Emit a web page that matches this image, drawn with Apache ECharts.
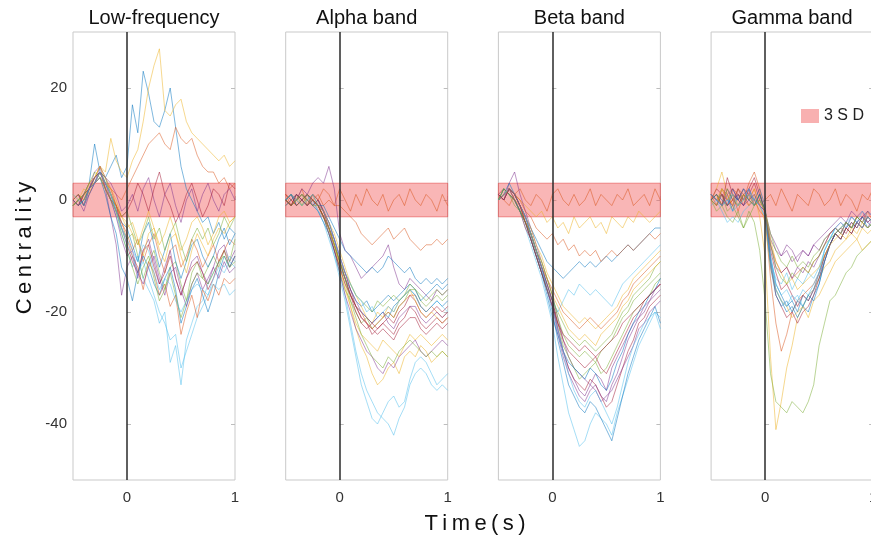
<!DOCTYPE html>
<html>
<head>
<meta charset="utf-8">
<title>Centrality by frequency band</title>
<script src="https://cdn.jsdelivr.net/npm/echarts@6.0.0/dist/echarts.min.js"></script>
<style>
  html, body { margin: 0; padding: 0; background: #fff; }
  #chart { width: 871px; height: 537px; }
</style>
</head>
<body>
<div id="chart"></div>
<script>
// Time samples (s), shared by every trace
const TIME = [-0.5,-0.45,-0.4,-0.35,-0.3,-0.25,-0.2,-0.15,-0.1,-0.05,0,0.05,0.1,0.15,0.2,0.25,0.3,0.35,0.4,0.45,0.5,0.55,0.6,0.65,0.7,0.75,0.8,0.85,0.9,0.95,1];

const PANEL_TITLES = ['Low-frequency', 'Alpha band', 'Beta band', 'Gamma band'];
const Y_TICKS = [-40, -20, 0, 20];
const X_TICKS = [0, 1];
const SD_LOW = -3;
const SD_HIGH = 3;
const SD_LABEL = '3 S D';

// Low-frequency traces
const lowFreq = [
  [0,-1,1,3,10,5,4,6,8,4,6,17,12,23,19,14,13,16,20,13,6,2,0,-2,-4,-3,-6,-4,-7,-5,-6],
  [-1,0,1,3,4,5,4,2,-1,-4,-6,-9,-7,-11,-8,-6,-10,-13,-9,-8,-12,-10,-7,-9,-12,-10,-8,-11,-9,-7,-8],
  [1,0,-1,2,4,6,5,11,7,5,4,7,9,14,20,24,27,16,15,17,18,14,12,11,10,9,8,7,8,6,7],
  [0,1,-1,2,5,6,2,-3,-8,-17,-12,-10,-14,-9,-7,-11,-15,-12,-9,-14,-17,-14,-11,-10,-13,-15,-12,-9,-8,-11,-9],
  [0,-1,0,2,3,4,3,1,-2,-5,-7,-6,-10,-14,-11,-9,-13,-16,-12,-11,-15,-18,-13,-11,-14,-12,-10,-12,-9,-11,-7],
  [-1,0,1,2,3,4,2,0,-3,-6,-9,-12,-10,-14,-16,-18,-22,-20,-29,-26,-33,-25,-22,-19,-18,-15,-13,-11,-12,-10,-11],
  [0,1,0,2,3,5,3,1,-1,-5,-8,-11,-13,-9,-8,-12,-15,-13,-10,-14,-17,-14,-12,-11,-13,-16,-14,-11,-9,-12,-10],
  [0,1,-1,1,3,5,4,1,-2,-4,-5,-8,-11,-6,-4,-8,-12,-9,-6,-11,-14,-11,-8,-7,-10,-12,-10,-7,-5,-8,-6],
  [0,-1,1,2,3,5,3,2,1,0,2,4,6,8,10,11,12,10,9,13,11,10,11,8,6,5,5,3,4,2,3],
  [-1,0,2,1,4,6,3,2,0,-3,-5,-4,-7,-10,-6,-5,-9,-11,-7,-6,-10,-13,-9,-6,-8,-10,-7,-5,-6,-4,-3],
  [-1,0,-2,1,3,6,4,3,1,-2,-1,1,-2,2,4,0,-3,1,3,-1,-4,0,2,-2,1,3,0,-2,1,2,0],
  [-1,0,1,2,4,5,3,1,-1,-3,-2,-5,-8,-6,-3,-7,-5,-9,-6,-4,-8,-11,-7,-5,-7,-5,-8,-6,-3,-5,-3],
  [0,-1,0,2,4,5,3,1,-2,-5,-8,-10,-13,-11,-14,-17,-20,-22,-25,-24,-30,-27,-24,-21,-19,-17,-14,-12,-13,-11,-12],
  [0,1,-1,2,4,5,2,0,-1,-3,-2,0,3,1,-2,2,5,1,-1,-4,-2,1,3,0,-3,-1,2,1,-1,3,2],
  [0,-1,0,2,3,4,1,-3,-6,-12,-14,-18,-13,-10,-12,-15,-17,-14,-12,-16,-22,-19,-16,-14,-17,-20,-17,-13,-10,-12,-10],
  [0,-1,1,2,3,4,2,0,-2,-4,-7,-10,-12,-16,-11,-13,-17,-15,-19,-17,-24,-20,-17,-21,-16,-18,-15,-17,-14,-15,-14],
  [0,1,0,3,4,6,4,1,-1,-3,-4,-6,-8,-5,-2,-5,-8,-6,-3,-6,-9,-7,-4,-3,-5,-8,-6,-3,-2,-4,-3],
  [0,-1,1,2,4,5,3,0,-3,-7,-10,-9,-13,-15,-12,-10,-14,-17,-13,-12,-16,-19,-15,-13,-16,-14,-12,-14,-11,-13,-12],
  [-1,0,1,3,5,4,2,0,-2,-6,-9,-12,-15,-12,-10,-14,-18,-16,-13,-17,-21,-18,-15,-13,-14,-15,-13,-11,-10,-12,-11],
  [1,0,-1,2,3,5,3,1,-2,-5,-7,-9,-11,-8,-9,-13,-16,-14,-15,-18,-20,-18,-16,-15,-16,-17,-15,-16,-15,-17,-16]
];

// Alpha-band traces
const alphaBand = [
  [0,1,-1,0,1,-1,0,-2,-4,-7,-11,-14,-17,-19,-20,-21,-22,-21,-20,-21,-19,-18,-17,-16,-17,-19,-20,-19,-18,-19,-18],
  [1,-1,0,2,-1,1,0,2,1,-1,2,0,-2,1,-1,2,0,-1,1,-2,0,1,-1,2,0,-1,1,0,-2,1,-1],
  [0,-1,1,0,-1,0,-1,-3,-5,-8,-12,-15,-19,-23,-26,-28,-31,-33,-32,-30,-29,-31,-28,-27,-28,-26,-27,-29,-28,-27,-28],
  [0,1,0,2,1,3,4,3,6,2,-6,-9,-10,-12,-14,-13,-12,-11,-10,-8,-12,-15,-16,-14,-15,-16,-17,-18,-16,-17,-16],
  [-1,0,1,-1,0,1,-1,-3,-6,-9,-13,-16,-18,-20,-22,-21,-23,-22,-21,-20,-21,-19,-18,-16,-16,-18,-19,-18,-17,-18,-17],
  [0,-1,0,1,-1,0,-2,-4,-7,-10,-13,-17,-22,-27,-31,-34,-36,-38,-39,-40,-42,-39,-37,-33,-31,-30,-31,-33,-34,-33,-34],
  [1,0,-1,0,1,0,-1,-2,-5,-8,-11,-14,-17,-20,-22,-23,-22,-23,-22,-21,-22,-20,-19,-17,-18,-20,-21,-20,-19,-20,-19],
  [0,-1,0,1,0,-1,-2,-4,-6,-9,-12,-14,-16,-18,-19,-18,-20,-19,-18,-17,-18,-17,-16,-15,-16,-18,-17,-16,-15,-16,-15],
  [0,1,-1,0,1,0,1,-1,0,-1,-1,-2,-3,-4,-6,-7,-8,-7,-6,-5,-7,-6,-5,-7,-8,-9,-8,-8,-7,-8,-7],
  [-1,0,1,0,-1,1,0,-2,-4,-6,-9,-12,-15,-17,-19,-21,-22,-20,-21,-19,-20,-18,-17,-16,-18,-20,-21,-20,-21,-22,-21],
  [0,-1,1,0,-1,0,-1,-3,-5,-9,-13,-17,-20,-23,-25,-27,-28,-30,-31,-29,-30,-28,-27,-26,-25,-27,-28,-27,-26,-25,-26],
  [0,1,0,-1,1,0,-1,-3,-5,-8,-11,-13,-15,-17,-18,-19,-20,-18,-19,-18,-17,-18,-17,-15,-16,-17,-18,-17,-16,-17,-16],
  [-1,0,1,0,-1,0,-2,-3,-6,-10,-14,-18,-23,-28,-33,-36,-39,-40,-38,-36,-35,-37,-36,-32,-29,-28,-29,-31,-33,-32,-31],
  [0,-1,0,1,0,-1,0,-2,-4,-7,-10,-13,-16,-19,-21,-22,-24,-23,-22,-23,-24,-22,-21,-19,-20,-22,-23,-22,-21,-22,-21],
  [0,1,-1,0,1,0,-1,-1,-3,-5,-7,-9,-10,-11,-12,-13,-12,-13,-12,-10,-11,-12,-13,-12,-14,-15,-14,-15,-14,-15,-14],
  [1,0,-1,0,1,0,-1,-3,-5,-8,-11,-14,-17,-19,-20,-22,-23,-22,-21,-20,-21,-19,-18,-17,-17,-19,-20,-19,-20,-21,-20],
  [0,-1,0,1,-1,0,-1,-2,-5,-8,-12,-16,-19,-22,-24,-25,-26,-27,-25,-26,-27,-28,-26,-24,-25,-24,-25,-26,-25,-24,-25],
  [-1,0,1,0,-1,1,0,-2,-5,-7,-10,-13,-16,-18,-20,-21,-22,-21,-20,-22,-23,-21,-20,-19,-19,-21,-22,-21,-20,-21,-20],
  [0,-1,0,1,0,-1,-1,-3,-5,-8,-11,-14,-18,-21,-24,-26,-28,-29,-30,-28,-29,-27,-26,-25,-26,-27,-28,-27,-28,-27,-28],
  [0,1,0,-1,0,1,-1,-2,-4,-7,-10,-13,-15,-17,-18,-20,-19,-21,-20,-19,-20,-18,-17,-16,-17,-19,-20,-19,-18,-19,-20],
  [0,-1,1,0,-1,0,-1,-3,-6,-9,-12,-15,-17,-19,-21,-22,-23,-24,-23,-24,-25,-23,-22,-21,-21,-23,-24,-23,-22,-23,-22]
];

// Beta-band traces
const betaBand = [
  [0,1,2,1,-1,-3,-5,-7,-9,-11,-12,-13,-14,-13,-12,-11,-12,-11,-12,-11,-10,-11,-10,-9,-8,-9,-8,-7,-6,-5,-5],
  [1,0,-1,1,2,0,-1,1,0,-2,1,2,0,-1,1,-1,0,2,-1,1,0,-1,1,0,2,-1,0,1,-1,2,0],
  [0,1,2,1,0,-1,-2,-3,-2,-4,-3,-5,-4,-6,-3,-5,-4,-3,-5,-4,-6,-3,-4,-5,-3,-4,-2,-3,-4,-3,-2],
  [1,0,3,5,1,-2,-5,-8,-11,-14,-17,-21,-25,-28,-30,-31,-32,-33,-31,-32,-34,-30,-28,-26,-24,-22,-21,-20,-18,-17,-16],
  [0,2,1,0,-2,-4,-6,-9,-12,-15,-18,-22,-26,-28,-30,-32,-31,-30,-29,-31,-30,-28,-26,-24,-22,-20,-19,-18,-17,-15,-14],
  [0,1,2,0,-2,-5,-8,-11,-14,-18,-22,-28,-33,-38,-41,-44,-43,-40,-38,-39,-40,-42,-38,-35,-32,-29,-26,-24,-22,-20,-21],
  [1,2,1,0,-2,-5,-7,-10,-13,-16,-19,-23,-27,-30,-32,-33,-34,-32,-33,-35,-37,-36,-33,-30,-27,-25,-22,-21,-19,-18,-17],
  [0,1,3,1,-1,-3,-6,-9,-12,-16,-20,-25,-29,-33,-35,-37,-38,-36,-37,-39,-41,-43,-39,-35,-31,-28,-25,-23,-21,-19,-22],
  [0,1,2,1,0,-2,-3,-5,-6,-7,-6,-8,-7,-9,-8,-10,-9,-10,-9,-11,-10,-9,-10,-9,-8,-9,-8,-7,-6,-7,-6],
  [1,0,2,1,-1,-3,-5,-8,-10,-13,-15,-17,-19,-20,-21,-22,-21,-22,-23,-22,-21,-20,-19,-17,-16,-14,-13,-12,-11,-10,-9],
  [0,1,2,0,-2,-4,-7,-10,-13,-16,-19,-24,-28,-31,-33,-35,-36,-34,-33,-35,-36,-33,-31,-28,-25,-23,-21,-19,-18,-16,-15],
  [0,2,1,-1,-2,-4,-7,-10,-13,-16,-18,-20,-22,-24,-25,-26,-25,-26,-27,-26,-25,-24,-22,-20,-19,-17,-16,-15,-14,-12,-11],
  [1,0,2,1,-1,-3,-6,-9,-12,-15,-18,-20,-18,-16,-17,-15,-16,-17,-16,-17,-18,-19,-17,-15,-14,-13,-12,-11,-10,-9,-8],
  [0,1,2,1,-1,-4,-6,-9,-12,-15,-18,-22,-25,-27,-28,-29,-30,-29,-28,-30,-31,-29,-27,-25,-23,-21,-20,-18,-17,-16,-15],
  [0,2,1,0,-2,-4,-7,-10,-13,-17,-21,-24,-27,-29,-30,-31,-32,-30,-31,-33,-34,-32,-29,-27,-24,-22,-20,-19,-17,-16,-14],
  [1,0,2,0,-1,-3,-6,-9,-12,-14,-16,-18,-20,-21,-22,-23,-22,-21,-22,-23,-22,-21,-20,-18,-17,-15,-14,-13,-12,-11,-10],
  [0,1,2,1,-1,-4,-6,-9,-11,-14,-17,-19,-21,-23,-24,-25,-24,-25,-26,-24,-23,-22,-21,-19,-18,-16,-15,-14,-13,-12,-11],
  [1,0,2,1,-1,-3,-6,-9,-12,-15,-18,-23,-27,-30,-32,-34,-35,-33,-34,-36,-35,-34,-32,-30,-28,-26,-23,-22,-20,-19,-18],
  [0,2,1,0,-2,-4,-6,-9,-11,-14,-17,-21,-24,-26,-27,-28,-27,-28,-29,-27,-26,-25,-23,-21,-20,-18,-17,-16,-15,-14,-13],
  [0,1,2,1,-1,-3,-6,-9,-12,-16,-19,-23,-27,-31,-34,-36,-37,-35,-34,-36,-38,-40,-37,-33,-29,-26,-24,-22,-21,-20,-23],
  [1,0,2,1,-1,-4,-7,-10,-13,-16,-19,-22,-24,-25,-26,-27,-26,-27,-28,-27,-26,-25,-24,-22,-21,-20,-19,-18,-17,-16,-15]
];

// Gamma-band traces
const gammaBand = [
  [0,-1,2,1,-2,1,0,2,-1,1,-2,-10,-15,-17,-19,-18,-20,-17,-18,-16,-14,-10,-8,-6,-7,-5,-4,-5,-3,-4,-5],
  [1,-1,2,0,1,-2,1,0,2,-1,0,1,-1,2,0,-2,1,0,-1,2,1,-1,0,2,-1,1,0,-2,1,0,2],
  [0,2,5,1,-1,2,0,-1,1,-3,-10,-28,-41,-36,-30,-26,-21,-19,-17,-16,-14,-12,-11,-9,-8,-7,-6,-7,-5,-6,-5],
  [1,0,-1,2,0,-1,1,2,0,-1,-2,-7,-9,-10,-8,-9,-11,-9,-10,-8,-9,-7,-6,-5,-6,-4,-5,-3,-4,-5,-3],
  [0,-1,1,-2,-1,-3,-5,-2,-4,-9,-18,-31,-36,-37,-38,-36,-37,-38,-36,-33,-26,-22,-18,-17,-15,-13,-12,-10,-9,-8,-7],
  [-1,0,-2,-4,-3,-4,-2,-1,0,-1,-3,-11,-14,-15,-13,-16,-14,-15,-13,-14,-12,-9,-7,-5,-6,-4,-5,-3,-4,-2,-3],
  [0,1,-1,4,1,0,2,1,3,0,-2,-9,-13,-16,-15,-17,-19,-17,-18,-16,-13,-10,-8,-6,-5,-6,-4,-5,-3,-4,-3],
  [1,0,1,-1,2,0,-1,1,0,2,-1,-11,-16,-18,-20,-19,-21,-19,-20,-17,-15,-11,-8,-6,-7,-5,-6,-4,-5,-3,-4],
  [0,1,-1,0,2,1,0,3,5,2,-3,-14,-22,-27,-24,-20,-18,-17,-16,-15,-13,-10,-8,-6,-7,-5,-6,-4,-5,-3,-4],
  [1,0,2,1,-1,0,1,0,2,-1,-4,-12,-16,-18,-19,-21,-20,-19,-21,-18,-17,-15,-13,-11,-10,-9,-8,-7,-9,-8,-7],
  [0,-1,1,0,-1,2,0,1,-1,0,-2,-6,-8,-10,-9,-11,-10,-9,-10,-8,-7,-6,-5,-4,-3,-4,-2,-3,-2,-4,-3],
  [0,1,-1,2,0,-1,1,0,-1,1,-2,-6,-9,-11,-12,-10,-12,-11,-12,-10,-9,-7,-6,-5,-6,-4,-5,-3,-4,-3,-4],
  [1,0,-1,0,-2,-1,0,1,-1,0,-2,-10,-15,-17,-16,-18,-17,-19,-17,-16,-13,-9,-7,-5,-6,-4,-3,-4,-2,-3,-4],
  [0,2,1,-1,0,1,-1,2,4,1,-2,-11,-17,-19,-21,-20,-22,-20,-19,-17,-14,-11,-8,-6,-7,-5,-6,-4,-5,-3,-4],
  [0,1,0,-1,1,0,2,0,-1,1,-2,-12,-17,-19,-18,-20,-18,-19,-17,-18,-15,-11,-8,-6,-5,-4,-5,-4,-3,-5,-4],
  [1,0,1,-1,0,2,1,-1,0,-2,-3,-8,-11,-13,-12,-14,-13,-12,-13,-11,-10,-8,-6,-5,-6,-4,-5,-3,-4,-2,-4],
  [0,-1,2,0,1,-1,0,1,-1,0,-2,-7,-11,-13,-15,-14,-16,-15,-14,-13,-12,-10,-8,-7,-6,-7,-5,-6,-4,-5,-4],
  [1,0,-1,1,2,0,-1,0,1,-1,-2,-8,-12,-13,-12,-14,-12,-13,-11,-12,-10,-8,-6,-5,-4,-5,-3,-4,-3,-2,-3],
  [0,-2,-1,-3,-4,-2,-5,-3,-1,0,-2,-8,-12,-14,-15,-13,-14,-12,-13,-11,-10,-8,-7,-6,-5,-4,-5,-3,-4,-5,-4],
  [1,0,-1,0,1,-1,0,2,0,-1,-3,-11,-16,-18,-19,-17,-18,-16,-17,-15,-13,-9,-7,-5,-4,-5,-3,-4,-5,-3,-4]
];

const PANELS = [lowFreq, alphaBand, betaBand, gammaBand];

// Trace colours cycle through this palette
const PALETTE = ['#0072BD', '#D95319', '#EDB120', '#7E2F8E', '#77AC30', '#4DBEEE', '#A2142F'];

// Panel geometry (px)
const GRID_LEFT0 = 73;
const GRID_STEP = 212.7;
const GRID_W = 162;
const GRID_TOP = 32;
const GRID_H = 448;

const FONT = '"Liberation Sans", Arial, Helvetica, sans-serif';
const THIN = '\u2009';

const chart = echarts.init(document.getElementById('chart'), null, { renderer: 'canvas' });

const grids = [], xAxes = [], yAxes = [], series = [], graphics = [];

PANELS.forEach((traces, p) => {
  const left = GRID_LEFT0 + p * GRID_STEP;
  grids.push({
    left: left, top: GRID_TOP, width: GRID_W, height: GRID_H,
    outerBoundsMode: 'none',
    show: true, borderColor: '#c9c9c9', borderWidth: 1, backgroundColor: 'transparent'
  });
  xAxes.push({
    type: 'value', gridIndex: p, min: -0.5, max: 1,
    axisLine: { show: false },
    splitLine: { show: false },
    axisTick: { show: true, inside: true, length: 4, lineStyle: { color: '#bdbdbd' }, customValues: X_TICKS },
    axisLabel: { show: true, customValues: X_TICKS, color: '#333', fontSize: 15, fontFamily: FONT, margin: 10,
      formatter: v => String(v) }
  });
  // left axis (labels on the first panel only) and a mirrored right axis for the tick marks
  yAxes.push({
    type: 'value', gridIndex: p, min: -50, max: 30, position: 'left',
    axisLine: { show: false },
    splitLine: { show: false },
    axisTick: { show: true, inside: true, length: 4, lineStyle: { color: '#bdbdbd' }, customValues: Y_TICKS },
    axisLabel: { show: p === 0, customValues: Y_TICKS, color: '#333', fontSize: 15, fontFamily: FONT, margin: 6 }
  });
  yAxes.push({
    type: 'value', gridIndex: p, min: -50, max: 30, position: 'right',
    axisLine: { show: false },
    splitLine: { show: false },
    axisTick: { show: true, inside: true, length: 4, lineStyle: { color: '#bdbdbd' }, customValues: Y_TICKS },
    axisLabel: { show: false }
  });

  traces.forEach((vals, j) => {
    series.push({
      type: 'line',
      xAxisIndex: p, yAxisIndex: p * 2,
      data: TIME.map((t, k) => [t, vals[k]]),
      showSymbol: false, symbol: 'none',
      silent: true, z: 2,
      lineStyle: { width: 1, color: PALETTE[j % PALETTE.length], opacity: 0.5 }
    });
  });

  // ±3 SD band
  series.push({
    type: 'line', name: SD_LABEL,
    xAxisIndex: p, yAxisIndex: p * 2,
    data: [],
    silent: true, z: 5,
    itemStyle: { color: '#f8b0b0' },
    lineStyle: { color: '#f8b0b0' },
    markArea: {
      silent: true,
      itemStyle: { color: 'rgba(240,80,80,0.42)', borderColor: 'rgba(225,60,60,0.55)', borderWidth: 1 },
      data: [[{ yAxis: SD_LOW }, { yAxis: SD_HIGH }]]
    }
  });

  // stimulus onset
  series.push({
    type: 'line',
    xAxisIndex: p, yAxisIndex: p * 2,
    data: [],
    silent: true, z: 6,
    markLine: {
      silent: true, symbol: ['none', 'none'],
      label: { show: false },
      lineStyle: { color: '#2a2a2a', width: 1.5, type: 'solid' },
      data: [{ xAxis: 0 }]
    }
  });

  graphics.push({
    type: 'text',
    x: left + GRID_W / 2, y: 18,
    style: { text: PANEL_TITLES[p], fill: '#111', font: '20px ' + FONT, textAlign: 'center', textVerticalAlign: 'middle' }
  });
});

graphics.push({
  type: 'text', x: 25, y: 248, rotation: Math.PI / 2,
  style: { text: 'Centrality'.split('').join(THIN), fill: '#111', font: '22px ' + FONT, textAlign: 'center', textVerticalAlign: 'middle' }
});
graphics.push({
  type: 'text', x: 475, y: 524,
  style: { text: 'Time(s)'.split('').join(THIN), fill: '#111', font: '22px ' + FONT, textAlign: 'center', textVerticalAlign: 'middle' }
});

chart.setOption({
  animation: false,
  backgroundColor: '#ffffff',
  grid: grids,
  xAxis: xAxes,
  yAxis: yAxes,
  series: series,
  legend: {
    data: [SD_LABEL],
    left: 796, top: 103,
    icon: 'rect', itemWidth: 18, itemHeight: 14,
    selectedMode: false,
    textStyle: { fontSize: 16, color: '#222', fontFamily: FONT }
  },
  graphic: graphics
});
</script>
</body>
</html>
